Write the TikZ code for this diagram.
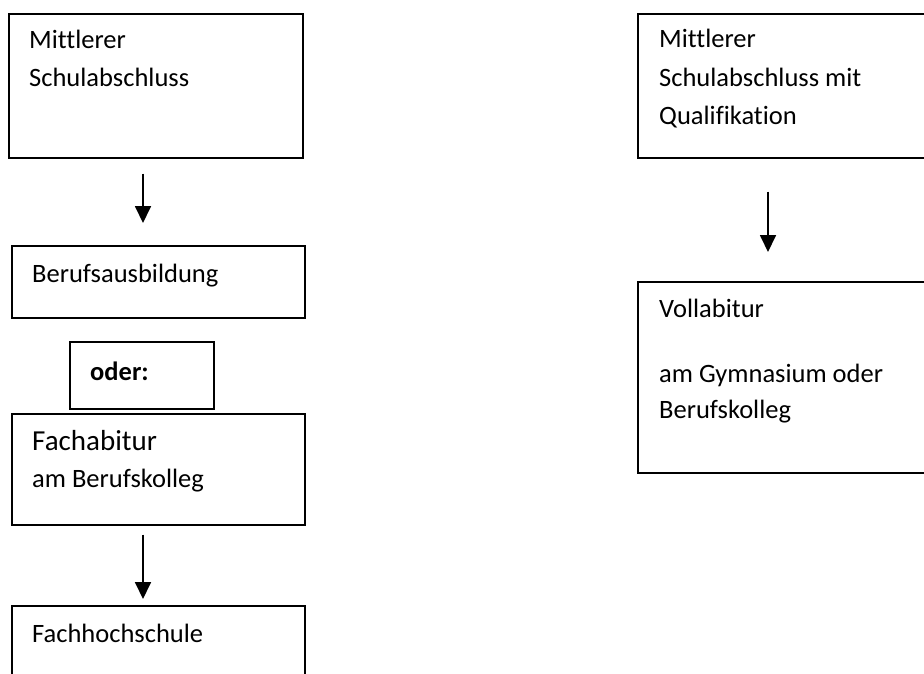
\documentclass[tikz,border=0pt]{standalone}
\usepackage{fontspec}
\setmainfont[Ligatures=NoCommon]{Carlito}
\usetikzlibrary{arrows.meta}

\def \rand {1.6pt}

\tikzset{
  kasten/.style={draw, line width=\rand, rectangle, anchor=north west, inner sep=0pt},
  zeile/.style={anchor=base west, inner sep=0pt, font=\fontsize{26.5}{30}\selectfont},
  pfeil/.style={line width=1.8pt, -{Triangle[width=16pt,length=17pt]}},
}

\begin{document}
\begin{tikzpicture}[x=1pt, y=-1pt]
         \useasboundingbox (0,0) rectangle (924,673);
         % linke Seite
         \node[kasten, minimum width=294pt, minimum height=144pt] (msa) at (8,13) {};
         \node[zeile] (msa1) at (29,48) {Mittlerer};
         \node[zeile] (msa2) at (29,86) {Schulabschluss};
         \node[kasten, minimum width=293pt, minimum height=72pt] (ausb) at (11,245) {};
         \node[zeile] (ausb1) at (32,282) {Berufsausbildung};
         \node[kasten, minimum width=144pt, minimum height=67pt] (oder) at (69,341) {};
         \node[zeile, font=\bfseries\fontsize{26.5}{30}\selectfont] (oder1) at (90,380) {oder:};
         \node[kasten, minimum width=293pt, minimum height=111pt] (fabi) at (11,413) {};
         \node[zeile, font=\fontsize{29}{34}\selectfont] (fabi1) at (32,450) {Fachabitur};
         \node[zeile] (fabi2) at (32,487) {am Berufskolleg};
         \node[kasten, minimum width=293pt, minimum height=100pt] (fhs) at (11,605) {};
         \node[zeile] (fhs1) at (32,642) {Fachhochschule};
         % rechte Seite
         \node[kasten, minimum width=320pt, minimum height=144pt] (msaq) at (637,13) {};
         \node[zeile] (msaq1) at (659,47) {Mittlerer};
         \node[zeile] (msaq2) at (659,86) {Schulabschluss mit};
         \node[zeile] (msaq3) at (659,124) {Qualifikation};
         \node[kasten, minimum width=320pt, minimum height=191pt] (vabi) at (637,281) {};
         \node[zeile] (vabi1) at (659,317) {Vollabitur};
         \node[zeile] (vabi2) at (659,382) {am Gymnasium oder};
         \node[zeile] (vabi3) at (659,418) {Berufskolleg};
         % Pfeile
         \coordinate (links) at (143,0);
         \coordinate (rechts) at (768,0);
         \draw[pfeil, shorten <=15pt, shorten >=22pt] (msa.south -| links) -- (ausb.north -| links);
         \draw[pfeil, shorten <=9pt, shorten >=6pt] (fabi.south -| links) -- (fhs.north -| links);
         \draw[pfeil, shorten <=33pt, shorten >=29pt] (msaq.south -| rechts) -- (vabi.north -| rechts);
      \end{tikzpicture}
\end{document}
